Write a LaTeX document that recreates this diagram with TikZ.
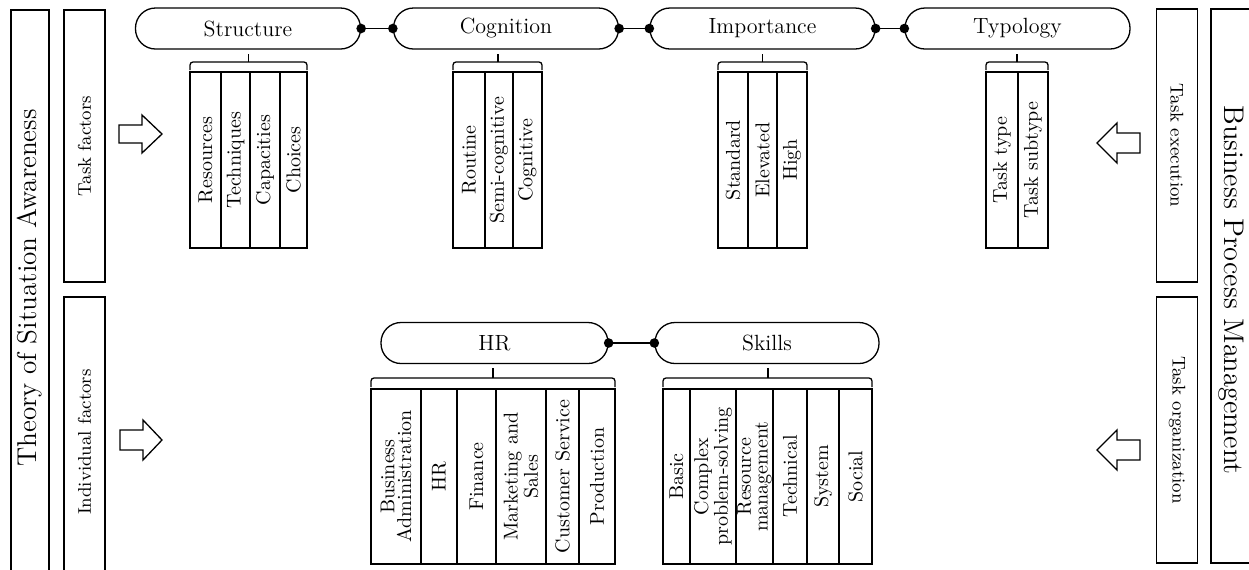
\documentclass[tikz,border=0pt]{standalone}
\begin{document}
\begin{tikzpicture}[x=0.5pt,y=-0.5pt,line width=0.65pt,
  pill/.style={draw,rounded corners=10pt,minimum width=112.5pt,minimum height=20.5pt,inner sep=0pt,font=\fontsize{11}{13}\selectfont},
  cell/.style={draw,rotate=90,minimum width=88pt,inner sep=0pt,align=center,font=\fontsize{10}{8.3}\selectfont},
  sidebox/.style={draw,minimum height=20.5pt,inner sep=0pt,font=\fontsize{9.2}{10}\selectfont},
  bigtext/.style={font=\fontsize{13.6}{15}\selectfont,inner sep=0pt},
  dot/.style={fill=black},
  blockarrow/.style={draw,line join=miter}]
\clip (0,0) rectangle (1249,569);
% outer boxes
\draw (11,10) rectangle (49,590);
\node[bigtext,rotate=90] (tsa) at (30,288) {Theory of Situation Awareness};
\draw (1211,9) rectangle (1255,563);
\node[bigtext,rotate=-90,font=\fontsize{14.2}{16}\selectfont] (bpm) at (1231,290) {Business Process Management};
% side boxes
\node[sidebox,rotate=90,minimum width=136pt] (tf) at (84.5,146) {Task factors};
\node[sidebox,rotate=90,minimum width=145pt] (if) at (84.5,442) {Individual factors};
\node[sidebox,rotate=-90,minimum width=136.5pt] (te) at (1177,145.5) {Task execution};
\node[sidebox,rotate=-90,minimum width=133pt] (to) at (1177,430) {Task organization};
% block arrows
\draw[blockarrow] (119,125) -- (142,125) -- (142,115) -- (162,134) -- (142,153) -- (142,143) -- (119,143) -- cycle;
\draw[blockarrow] (120,430) -- (143,430) -- (143,420) -- (162,440) -- (143,460) -- (143,450) -- (120,450) -- cycle;
\draw[blockarrow] (1140,133) -- (1117,133) -- (1117,123) -- (1097,143) -- (1117,163) -- (1117,153) -- (1140,153) -- cycle;
\draw[blockarrow] (1140,440) -- (1117,440) -- (1117,430) -- (1097,450) -- (1117,470) -- (1117,460) -- (1140,460) -- cycle;
% top pills
\node[pill] (ps) at (248,28.5) {Structure};
\node[pill] (pc) at (506,28.5) {Cognition};
\node[pill] (pi) at (762.5,28.5) {Importance};
\node[pill] (pt) at (1017.5,28.5) {Typology};
\foreach \a/\b in {ps/pc,pc/pi,pi/pt}{
  \draw (\a.east) -- (\b.west);
  \fill[dot] (\a.east) circle[radius=2.4pt];
  \fill[dot] (\b.west) circle[radius=2.4pt];
}
% bottom pills
\node[pill,minimum width=113.5pt] (phr) at (494.5,343) {HR};
\node[pill,minimum width=112pt] (psk) at (767,343) {Skills};
\draw (phr.east) -- (psk.west);
\fill[dot] (phr.east) circle[radius=2.4pt];
\fill[dot] (psk.west) circle[radius=2.4pt];
% brackets
\foreach \l/\r/\m in {190/307/248.5,453/542/498,718/807/762.5,986/1048/1017}{
  \draw[rounded corners=1.5pt] (\l,70) -- (\l,62) -- (\r,62) -- (\r,70);
  \draw (\m,62) -- (\m,54);
}
\foreach \l/\r/\m in {371/615/493,663/872/768}{
  \draw[rounded corners=1.5pt] (\l,387) -- (\l,378) -- (\r,378) -- (\r,387);
  \draw (\m,378) -- (\m,368);
}
% top tables
\foreach \l/\r/\t [count=\i] in {190/221/Resources,221/250/Techniques,250/280/Capacities,280/307/Choices}
  \node[cell,minimum height={(\r-\l)*0.5pt}] (st\i) at ({(\l+\r)/2},160) {\t};
\foreach \l/\r/\t [count=\i] in {453/485/Routine,485/513/Semi-cognitive,513/542/Cognitive}
  \node[cell,minimum height={(\r-\l)*0.5pt}] (co\i) at ({(\l+\r)/2},160) {\t};
\foreach \l/\r/\t [count=\i] in {718/748/Standard,748/777/Elevated,777/807/High}
  \node[cell,minimum height={(\r-\l)*0.5pt}] (im\i) at ({(\l+\r)/2},160) {\t};
\foreach \l/\r/\t [count=\i] in {986/1018/Task type,1018/1048/Task subtype}
  \node[cell,minimum height={(\r-\l)*0.5pt}] (ty\i) at ({(\l+\r)/2},160) {\t};
% bottom tables
\foreach \l/\r/\t [count=\i] in {371/421/{Business\\Administration},421/457/HR,457/496/Finance,496/546/{Marketing and\\Sales},546/579/Customer Service,579/615/Production}
  \node[cell,minimum width=87.5pt,minimum height={(\r-\l)*0.5pt}] (hr\i) at ({(\l+\r)/2},476.5) {\t};
\foreach \l/\r/\t [count=\i] in {663/690/Basic,690/736/{Complex\\problem-solving},736/773/{Resource\\management},773/807/Technical,807/839/System,839/872/Social}
  \node[cell,minimum width=87.5pt,minimum height={(\r-\l)*0.5pt}] (sk\i) at ({(\l+\r)/2},476.5) {\t};
\end{tikzpicture}
\end{document}
